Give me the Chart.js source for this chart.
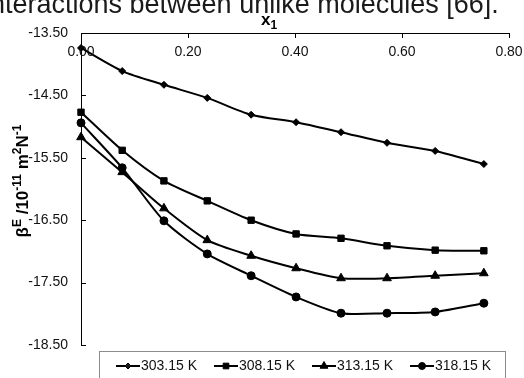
<!DOCTYPE html>
<html>
<head>
<meta charset="utf-8">
<script src="https://cdn.jsdelivr.net/npm/chart.js@4.4.1/dist/chart.umd.min.js"></script>
<style>
  html, body { margin: 0; padding: 0; background: #fff; }
  #wrap { width: 524px; height: 378px; position: relative; }
</style>
</head>
<body>
<div id="wrap"><canvas id="chart" width="524" height="378"></canvas></div>
<script>
// mole fraction x1
const xValues = [0, 0.077, 0.155, 0.236, 0.318, 0.402, 0.486, 0.572, 0.662, 0.753];
const seriesLabels = ['303.15 K', '308.15 K', '313.15 K', '318.15 K'];
const t303 = [-13.74, -14.11, -14.33, -14.54, -14.81, -14.93, -15.09, -15.26, -15.39, -15.60];
const t308 = [-14.77, -15.38, -15.87, -16.19, -16.50, -16.72, -16.79, -16.91, -16.98, -16.99];
const t313 = [-15.17, -15.73, -16.31, -16.82, -17.07, -17.27, -17.43, -17.43, -17.39, -17.35];
const t318 = [-14.94, -15.66, -16.51, -17.04, -17.39, -17.73, -17.99, -17.99, -17.97, -17.83];
const xTicks = [0, 0.2, 0.4, 0.6, 0.8];
const yTicks = [-13.5, -14.5, -15.5, -16.5, -17.5, -18.5];

const markers = [
  { style: 'rectRot', r: 3.5 },
  { style: 'rect', r: 4.5 },
  { style: 'triangle', r: 5 },
  { style: 'circle', r: 4 }
];
const FONT = '"Liberation Sans", Arial, sans-serif';

function mk(values, i) {
  return {
    label: seriesLabels[i],
    data: values.map((v, k) => ({ x: xValues[k], y: v })),
    borderColor: '#000',
    backgroundColor: '#000',
    borderWidth: 2,
    tension: 0.25,
    pointStyle: markers[i].style,
    pointRadius: markers[i].r,
    pointHoverRadius: markers[i].r,
    pointBorderWidth: 1,
    clip: false
  };
}

// draw text made of [text, 'n'|'sup'|'sub'] pieces
function richText(ctx, parts, x, y, size) {
  let cx = x;
  parts.forEach(([t, kind]) => {
    const s = kind === 'n' ? size : Math.round(size * 0.7);
    ctx.font = 'bold ' + s + 'px ' + FONT;
    const dy = kind === 'sup' ? -size * 0.4 : kind === 'sub' ? size * 0.25 : 0;
    ctx.fillText(t, cx, y + dy);
    cx += ctx.measureText(t).width;
  });
  return cx - x;
}
function richWidth(ctx, parts, size) {
  let w = 0;
  parts.forEach(([t, kind]) => {
    const s = kind === 'n' ? size : Math.round(size * 0.7);
    ctx.font = 'bold ' + s + 'px ' + FONT;
    w += ctx.measureText(t).width;
  });
  return w;
}

const decor = {
  id: 'decor',
  afterDraw(chart) {
    const ctx = chart.ctx;
    const xs = chart.scales.x, ys = chart.scales.y;
    const area = chart.chartArea;
    ctx.save();
    ctx.fillStyle = '#000';
    ctx.strokeStyle = '#000';
    ctx.lineWidth = 1;

    // inward tick marks
    ctx.beginPath();
    xTicks.forEach(v => {
      const px = Math.round(xs.getPixelForValue(v)) + 0.5;
      ctx.moveTo(px, area.top); ctx.lineTo(px, area.top + 5);
    });
    yTicks.forEach(v => {
      const py = Math.round(ys.getPixelForValue(v)) + 0.5;
      ctx.moveTo(area.left, py); ctx.lineTo(area.left + 5, py);
    });
    ctx.stroke();

    // x tick labels below the top axis line
    ctx.font = '14px ' + FONT;
    ctx.textAlign = 'center';
    ctx.textBaseline = 'middle';
    ctx.fillStyle = '#111';
    xTicks.forEach(v => {
      ctx.fillText(v.toFixed(2), xs.getPixelForValue(v), area.top + 19);
    });

    // x axis title
    ctx.textAlign = 'left';
    ctx.textBaseline = 'alphabetic';
    ctx.fillStyle = '#000';
    richText(ctx, [['x', 'n'], ['1', 'sub']], 261, 25, 17);

    // y axis title (rotated)
    const yParts = [['β', 'n'], ['E', 'sup'], [' /10', 'n'], ['-11', 'sup'], [' m', 'n'], ['2', 'sup'], ['N', 'n'], ['-1', 'sup']];
    const w = richWidth(ctx, yParts, 17);
    ctx.save();
    ctx.translate(28, 181);
    ctx.rotate(-Math.PI / 2);
    richText(ctx, yParts, -w / 2, 0, 17);
    ctx.restore();

    // caption cut at the top of the picture
    ctx.font = '27px ' + FONT;
    ctx.textAlign = 'left';
    ctx.fillStyle = '#1a1a1a';
    ctx.fillText('interactions between unlike molecules [66].', 5 - ctx.measureText('in').width, 13);

    // legend
    ctx.strokeStyle = '#8c8c8c';
    ctx.strokeRect(99.5, 351.5, 406, 40);
    const ly = 366;
    chart.data.datasets.forEach((ds, i) => {
      const x0 = 116 + i * 98;
      ctx.strokeStyle = '#000';
      ctx.lineWidth = 2;
      ctx.beginPath(); ctx.moveTo(x0, ly); ctx.lineTo(x0 + 24, ly); ctx.stroke();
      ctx.lineWidth = 1;
      Chart.helpers.drawPoint(ctx, { pointStyle: ds.pointStyle, radius: ds.pointRadius - 0.5, borderWidth: 1 }, x0 + 12, ly);
      ctx.fillStyle = '#111';
      ctx.font = '14px ' + FONT;
      ctx.textAlign = 'left';
      ctx.textBaseline = 'middle';
      ctx.fillText(ds.label, x0 + 25, ly);
      ctx.fillStyle = '#000';
    });
    ctx.restore();
  }
};

new Chart(document.getElementById('chart'), {
  type: 'line',
  data: { datasets: [mk(t303, 0), mk(t308, 1), mk(t313, 2), mk(t318, 3)] },
  options: {
    responsive: false,
    animation: false,
    layout: { padding: { right: 15, bottom: 33, top: 0, left: 0 } },
    plugins: { legend: { display: false }, tooltip: { enabled: false } },
    scales: {
      x: {
        type: 'linear',
        position: 'top',
        min: 0, max: 0.8,
        afterBuildTicks: s => { s.ticks = xTicks.map(v => ({ value: v })); },
        afterFit: s => { s.height = 33; },
        ticks: { display: false },
        grid: { display: false, drawTicks: false },
        border: { display: true, color: '#000', width: 1 }
      },
      y: {
        type: 'linear',
        min: -18.5, max: -13.5,
        afterBuildTicks: s => { s.ticks = yTicks.map(v => ({ value: v })); },
        afterFit: s => { s.width = 81; },
        ticks: {
          padding: 13,
          color: '#111',
          font: { family: FONT, size: 14 },
          callback: v => v.toFixed(2)
        },
        grid: { display: false, drawTicks: false },
        border: { display: true, color: '#000', width: 1 }
      }
    }
  },
  plugins: [decor]
});
</script>
</body>
</html>
